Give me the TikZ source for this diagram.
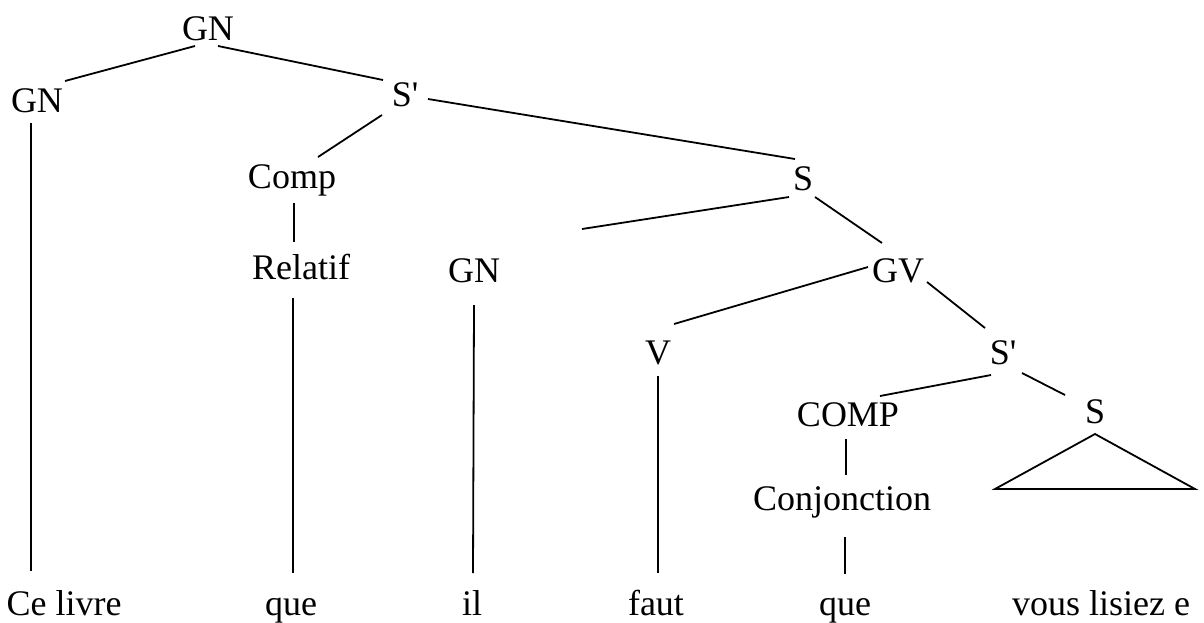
\documentclass[tikz,border=0pt]{standalone}
\usepackage{fontspec}
\setmainfont{Liberation Serif}
\tikzset{
  lbl/.style={inner sep=0pt, anchor=base, font=\fontsize{36}{40}\selectfont},
  branch/.style={line width=1.8pt, line cap=butt},
}
\newcommand{\pr}{\textquotesingle}
\begin{document}
\begin{tikzpicture}[x=1pt, y=-1pt]
\useasboundingbox (0,0) rectangle (1204,622);
\fill[white] (0,0) rectangle (1204,622);

% category labels (base points)
\node[lbl] (gnT)  at (208,40)  {GN};
\node[lbl] (gnL)  at (37,112)  {GN};
\node[lbl] (sp1)  at (405,106) {S\pr};
\node[lbl] (comp) at (292,188) {Comp};
\node[lbl] (sM)   at (803,190) {S};
\node[lbl] (rel)  at (301,279) {Relatif};
\node[lbl] (gnM)  at (474,282) {GN};
\node[lbl] (gv)   at (898,282) {GV};
\node[lbl] (v)    at (658,364) {V};
\node[lbl] (sp2)  at (1003,364) {S\pr};
\node[lbl] (cmp)  at (848,426) {COMP};
\node[lbl] (s3)   at (1095,423) {S};
\node[lbl] (conj) at (842,510) {Conjonction};

% the words
\node[lbl] (w1) at (64,615)  {Ce livre};
\node[lbl] (w2) at (291,615) {que};
\node[lbl] (w3) at (472,615) {il};
\node[lbl] (w4) at (656,615) {faut};
\node[lbl] (w5) at (845,615) {que};
\node[lbl, anchor=base west] (w6) at (1012,615) {vous lisiez e};

\coordinate (loose) at (582,229);

% branches
\draw[branch] ([shift={(-13,6)}]gnT.base) -- ([shift={(28,-31)}]gnL.base);
\draw[branch] ([shift={(10,6)}]gnT.base) -- ([shift={(-22,-26)}]sp1.base);
\draw[branch] ([shift={(23,-7)}]sp1.base) -- ([shift={(-8,-31)}]sM.base);
\draw[branch] ([shift={(-23,9)}]sp1.base) -- ([shift={(26,-31)}]comp.base);
\draw[branch] ([shift={(-6,11)}]gnL.base) -- ([shift={(-33,-44)}]w1.base);
\draw[branch] ([shift={(2,15)}]comp.base) -- ([shift={(-7,-37)}]rel.base);
\draw[branch] ([shift={(-8,19)}]rel.base) -- ([shift={(2,-42)}]w2.base);
\draw[branch] ([shift={(-14,7)}]sM.base) -- (loose);
\draw[branch] ([shift={(12,7)}]sM.base) -- ([shift={(-16,-39)}]gv.base);
\draw[branch] ([shift={(0,23)}]gnM.base) -- ([shift={(1,-42)}]w3.base);
\draw[branch] ([shift={(-30,-15)}]gv.base) -- ([shift={(16,-40)}]v.base);
\draw[branch] ([shift={(29,0)}]gv.base) -- ([shift={(-18,-36)}]sp2.base);
\draw[branch] ([shift={(0,12)}]v.base) -- ([shift={(2,-42)}]w4.base);
\draw[branch] ([shift={(-12,11)}]sp2.base) -- ([shift={(32,-30)}]cmp.base);
\draw[branch] ([shift={(19,9)}]sp2.base) -- ([shift={(-30,-28)}]s3.base);
\draw[branch] ([shift={(-2,13)}]cmp.base) -- ([shift={(4,-35)}]conj.base);
\draw[branch] ([shift={(3,27)}]conj.base) -- ([shift={(0,-41)}]w5.base);

% collapsed subtree under the lower S
\draw[branch, line join=miter] ([shift={(0,11)}]s3.base)
  -- ([shift={(-100,66)}]s3.base) -- ([shift={(100,66)}]s3.base) -- cycle;
\end{tikzpicture}
\end{document}
